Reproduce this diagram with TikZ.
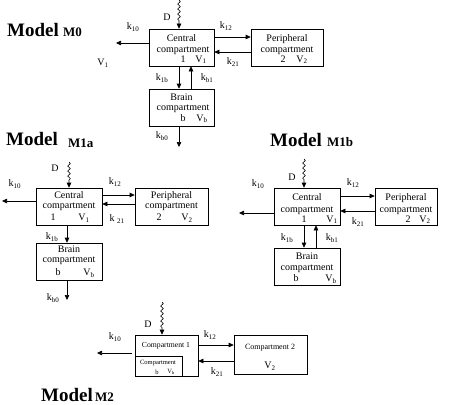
\documentclass[tikz,border=0pt]{standalone}
\usepackage{fontspec}
\setmainfont{Liberation Serif}
\usetikzlibrary{arrows.meta}
\usetikzlibrary{decorations.pathmorphing}

\begin{document}
\begin{tikzpicture}[x=1pt, y=-1pt,
  box/.style={draw, line width=.6pt, inner sep=0pt},
  txt/.style={font=\fontsize{10}{11}\selectfont, inner sep=0pt, text height=7pt, text depth=2pt},
  lab/.style={font=\fontsize{10}{11}\selectfont, inner sep=0pt},
  arr/.style={line width=.6pt, -{Triangle[length=5pt,width=4.5pt]}},
  wavy/.style={arr, decorate, decoration={snake, amplitude=1.3pt, segment length=5pt, post length=6pt}},
  ttl/.style={font=\fontsize{19}{20}\selectfont\bfseries, anchor=base west, inner sep=0pt},
  ttlsub/.style={font=\fontsize{13}{14}\selectfont\bfseries, anchor=base west, inner sep=0pt}]
\useasboundingbox (0,0) rectangle (449,404);

% Model M0
\node[ttl] (t0) at (7,37) {Model};
\node[ttlsub] (t0s) at (63,37) {M0};
\node[box, minimum width=65, minimum height=37] (c0) at (181.5,47.5) {};
\node[txt] (c0a) at (181.5,39) {Central};
\node[txt] (c0b) at (183,50) {compartment};
\node[txt] (c0c) at (183,60) {1};
\node[txt] (c0d) at (201,60) {V\textsubscript{1}};
\node[box, minimum width=72, minimum height=37] (p0) at (287,47.5) {};
\node[txt] (p0a) at (287,39) {Peripheral};
\node[txt] (p0b) at (287,50) {compartment};
\node[txt] (p0c) at (283,60) {2};
\node[txt] (p0d) at (302,60) {V\textsubscript{2}};
\node[box, minimum width=65, minimum height=37] (b0) at (181.5,107.5) {};
\node[txt] (b0a) at (181.5,98) {Brain};
\node[txt] (b0b) at (183,108) {compartment};
\node[txt] (b0c) at (183,118.5) {b};
\node[txt] (b0d) at (202,118.5) {V\textsubscript{b}};

\coordinate (w0) at (179,0);
\draw[wavy] (w0) -- (c0.north -| w0);
\node[lab] (d0) at (167,17) {D};
\coordinate (e0) at (116,43);
\draw[arr] (c0.west |- e0) -- (e0);
\node[lab] (k10a) at (133,27) {k\textsubscript{10}};
\node[lab] (v1a) at (103,63) {V\textsubscript{1}};
\draw[arr] ([yshift=10.5pt]c0.east) -- ([yshift=10.5pt]c0.east -| p0.west);
\node[lab] (k12a) at (226,26) {k\textsubscript{12}};
\draw[arr] ([yshift=-4.5pt]p0.west) -- ([yshift=-4.5pt]p0.west -| c0.east);
\node[lab] (k21a) at (233,62) {k\textsubscript{21}};
\draw[arr] ([xshift=-2.5pt]c0.south) -- ([xshift=-2.5pt]c0.south |- b0.north);
\draw[arr] ([xshift=9.5pt]b0.north) -- ([xshift=9.5pt]b0.north |- c0.south);
\node[lab] (k1ba) at (162,78) {k\textsubscript{1b}};
\node[lab] (kb1a) at (207,78) {k\textsubscript{b1}};
\coordinate (e0b) at (179,147);
\draw[arr] (b0.south -| e0b) -- (e0b);
\node[lab] (kb0a) at (162,136) {k\textsubscript{b0}};

% Model M1a
\node[ttl] (t1) at (6,145) {Model};
\node[ttlsub] (t1s) at (68,147) {M1a};
\node[box, minimum width=66, minimum height=37] (c1) at (69,206.5) {};
\node[txt] (c1a) at (69,196) {Central};
\node[txt] (c1b) at (69,205.5) {compartment};
\node[txt] (c1c) at (53,218) {1};
\node[txt] (c1d) at (84,218) {V\textsubscript{1}};
\node[box, minimum width=73, minimum height=37] (p1) at (171.5,206.5) {};
\node[txt] (p1a) at (171.5,196) {Peripheral};
\node[txt] (p1b) at (171.5,205.5) {compartment};
\node[txt] (p1c) at (159,218) {2};
\node[txt] (p1d) at (187,218) {V\textsubscript{2}};
\node[box, minimum width=66, minimum height=37] (b1) at (69,261.5) {};
\node[txt] (b1a) at (69,250) {Brain};
\node[txt] (b1b) at (69,259.5) {compartment};
\node[txt] (b1c) at (58,273) {b};
\node[txt] (b1d) at (89,273) {V\textsubscript{b}};

\coordinate (w1) at (69,162);
\draw[wavy] (w1) -- (c1.north);
\node[lab] (d1) at (55,168) {D};
\coordinate (e1) at (2,201);
\draw[arr] (c1.west |- e1) -- (e1);
\node[lab] (k10b) at (15,184) {k\textsubscript{10}};
\draw[arr] ([yshift=11.5pt]c1.east) -- ([yshift=11.5pt]c1.east -| p1.west);
\node[lab] (k12b) at (115,182) {k\textsubscript{12}};
\draw[arr] ([yshift=2.5pt]p1.west) -- ([yshift=2.5pt]p1.west -| c1.east);
\node[lab] (k21b) at (117,219) {k \textsubscript{21}};
\draw[arr] ([xshift=-2pt]c1.south) -- ([xshift=-2pt]c1.south |- b1.north);
\node[lab] (k1bb) at (52,237) {k\textsubscript{1b}};
\coordinate (e1b) at (67,300);
\draw[arr] (b1.south -| e1b) -- (e1b);
\node[lab] (kb0b) at (53,298) {k\textsubscript{b0}};

% Model M1b
\node[ttl] (t2) at (270,146) {Model};
\node[ttlsub] (t2s) at (327,146) {M1b};
\node[box, minimum width=66, minimum height=37] (c2) at (307,206.5) {};
\node[txt] (c2a) at (307,198) {Central};
\node[txt] (c2b) at (307,209.5) {compartment};
\node[txt] (c2c) at (304,219.5) {1};
\node[txt] (c2d) at (332,219.5) {V\textsubscript{1}};
\node[box, minimum width=62, minimum height=37] (p2) at (406,206.5) {};
\node[txt] (p2a) at (406,198) {Peripheral};
\node[txt] (p2b) at (406,209.5) {compartment};
\node[txt] (p2c) at (408,219.5) {2};
\node[txt] (p2d) at (425,219.5) {V\textsubscript{2}};
\node[box, minimum width=66, minimum height=37] (b2) at (307,266.5) {};
\node[txt] (b2a) at (307,257) {Brain};
\node[txt] (b2b) at (307,268) {compartment};
\node[txt] (b2c) at (296,279) {b};
\node[txt] (b2d) at (331,279) {V\textsubscript{b}};

\coordinate (w2) at (304,159);
\draw[wavy] (w2) -- (c2.north -| w2);
\node[lab] (d2) at (292,177) {D};
\coordinate (e2) at (239,213);
\draw[arr] (c2.west |- e2) -- (e2);
\node[lab] (k10c) at (258,184) {k\textsubscript{10}};
\draw[arr] ([yshift=10.5pt]c2.east) -- ([yshift=10.5pt]c2.east -| p2.west);
\node[lab] (k12c) at (353,183) {k\textsubscript{12}};
\draw[arr] ([yshift=-4.5pt]p2.west) -- ([yshift=-4.5pt]p2.west -| c2.east);
\node[lab] (k21c) at (358,222) {k\textsubscript{21}};
\draw[arr] ([xshift=-3pt]c2.south) -- ([xshift=-3pt]c2.south |- b2.north);
\draw[arr] ([xshift=9pt]b2.north) -- ([xshift=9pt]b2.north |- c2.south);
\node[lab] (k1bc) at (287,238) {k\textsubscript{1b}};
\node[lab] (kb1c) at (332,238) {k\textsubscript{b1}};

% Model M2
\node[ttl] (t3) at (41,401) {Model};
\node[ttlsub] (t3s) at (95,401) {M2};
\node[box, minimum width=63, minimum height=41] (c3) at (166.5,355.5) {};
\node[font=\fontsize{7.7}{8}\selectfont, inner sep=0pt] (c3a) at (166,346) {Compartment 1};
\node[box, minimum width=47, minimum height=20, anchor=south west] (i3) at (c3.south west) {};
\node[font=\fontsize{6.5}{7}\selectfont, inner sep=0pt] (i3a) at (158,363) {Compartment};
\node[font=\fontsize{6.5}{7}\selectfont, inner sep=0pt] (i3b) at (157,372) {b};
\node[font=\fontsize{6.5}{7}\selectfont, inner sep=0pt] (i3c) at (171,372) {V\textsubscript{b}};
\node[box, minimum width=73, minimum height=39] (p3) at (270.5,354.5) {};
\node[font=\fontsize{8}{9}\selectfont, inner sep=0pt] (p3a) at (270,348) {Compartment 2};
\node[txt] (p3b) at (270,366) {V\textsubscript{2}};

\coordinate (w3) at (162,302);
\draw[wavy] (w3) -- (c3.north -| w3);
\node[lab] (d3) at (148,324) {D};
\coordinate (e3) at (97,353);
\draw[arr] ([xshift=-3pt]c3.west |- e3) -- (e3);
\node[lab] (k10d) at (115,337) {k\textsubscript{10}};
\draw[arr] ([yshift=10.5pt]c3.east) -- ([yshift=10.5pt]c3.east -| p3.west);
\node[lab] (k12d) at (210,335) {k\textsubscript{12}};
\draw[arr] ([yshift=-5.5pt]c3.east -| p3.west) -- ([yshift=-5.5pt]c3.east);
\node[lab] (k21d) at (217,372) {k\textsubscript{21}};
\end{tikzpicture}
\end{document}
